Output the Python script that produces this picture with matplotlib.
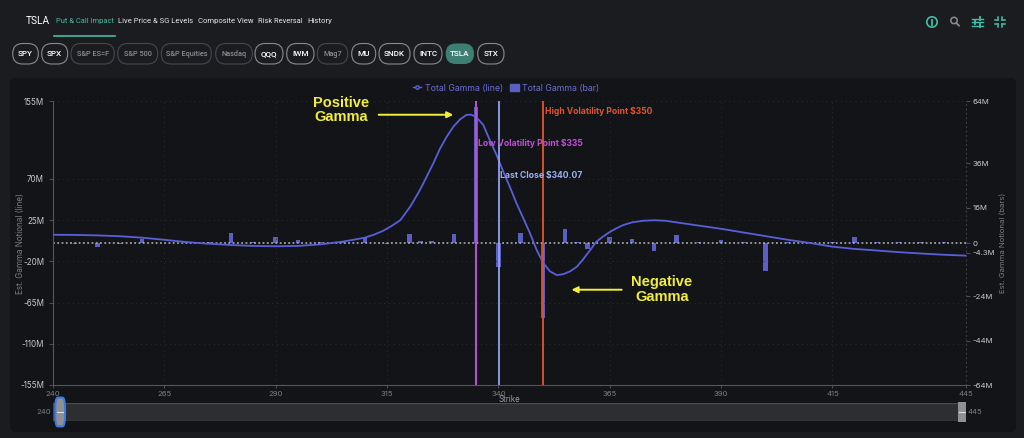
import matplotlib

matplotlib.use("Agg")
import matplotlib.pyplot as plt
from matplotlib.lines import Line2D
from matplotlib.patches import Circle, FancyBboxPatch, Rectangle

# ---------------------------------------------------------------------------
# data
# ---------------------------------------------------------------------------
line_strikes = [240, 245, 250, 255, 260, 265, 270, 275, 280, 285, 290, 295,
                300, 305, 308, 310, 312, 314, 316, 318, 320.2, 322.4, 323.9,
                325.4, 326.9, 328.4, 329.9, 331.4, 332.9, 334.0, 335.1, 336.6,
                338.1, 339.6, 341.1, 342.6, 344.1, 345.6, 347.1, 348.6, 350.1,
                351.6, 353.1, 354.6, 356.1, 357.6, 359, 360.5, 362, 363.5, 365,
                366.5, 368, 370, 372.5, 375, 377.5, 380, 385, 390, 395, 400,
                405, 410, 415, 420, 425, 430, 435, 440, 445]
line_gamma_m = [9.0, 8.8, 8.3, 7.4, 5.8, 3.5, 1.0, -0.8, -2.2, -3.2, -3.6, -3.2,
                -1.5, 1.5, 4.0, 5.8, 9.0, 13.0, 18.5, 25.0, 39.6, 57.9, 72.4,
                87.0, 103.0, 116.0, 127.0, 135.0, 140.0, 140.0, 137.0, 129.0,
                112.0, 96.0, 78.0, 61.0, 43.0, 27.0, 10.6, -7.6, -22.0,
                -31.0, -35.0, -34.0, -31.0, -26.0, -18.0, -8.5, 1.4, 7.0, 12.0,
                16.0, 19.5, 22.5, 24.3, 24.8, 24.3, 22.5, 19.0, 15.5, 11.5, 7.5,
                3.5, 0.0, -4.0, -6.5, -8.2, -10.0, -11.5, -12.8, -13.8]

bar_strikes = [245, 250, 255, 260, 265, 270, 275, 280, 285, 290, 295, 300, 305,
               310, 315, 320, 322.5, 325, 330, 335, 340, 345, 350, 355, 357.5,
               360, 365, 370, 375, 380, 385, 390, 395, 400, 405, 410, 415, 420,
               425, 430, 435, 440]
bar_gamma_m = [-0.3, -2.0, -0.3, 2.0, 0.2, 0.3, 0.3, 4.3, 0.3, 2.7, 1.4, 0.3, 0.3,
               2.8, -0.3, 4.0, 0.8, 1.0, 4.0, 61.5, -10.7, 4.6, -34.0, 6.3, 0.3,
               -2.8, 2.7, 1.9, -3.6, 3.6, 0.3, 1.3, 0.3, -12.6, 0.3, 0.6, 0.3, 2.7,
               0.5, 0.3, 0.3, 0.3]

left_ticks = [-155, -110, -65, -20, 25, 70, 155]
right_ticks = [-64, -44, -24, -4.3, 0, 16, 36, 64]
x_ticks = [240, 265, 290, 315, 340, 365, 390, 415, 445]

low_vol, last_close, high_vol = 335, 340.07, 350

tabs = ["Put & Call Impact", "Live Price & SG Levels", "Composite View",
        "Risk Reversal", "History"]
pills = ["SPY", "SPX", "S&P ES=F", "S&P 500", "S&P Equities", "Nasdaq", "QQQ",
         "IWM", "Mag7", "MU", "SNDK", "INTC", "TSLA", "STX"]
dim_pills = {"S&P ES=F", "S&P 500", "S&P Equities", "Nasdaq", "Mag7"}

# ---------------------------------------------------------------------------
# styling
# ---------------------------------------------------------------------------
W, H = 1024, 438
BG = "#1b1c20"
PANEL = "#131418"
TEAL = "#40bfa6"
LINE_C = "#5a5fd8"
BAR_C = "#5b5fc4"
GRID_C = "#2c2e34"
TICK_C = "#c9c9cc"
plt.rcParams["font.family"] = ["Inter", "DejaVu Sans"]


def fx(x):
    return x / W


def fy(y):
    return 1 - y / H


fig = plt.figure(figsize=(W / 100, H / 100), dpi=100, facecolor=BG)
renderer = fig.canvas.get_renderer()


def fit_text(t, width_px):
    # shrink a text so that it spans the width seen in the reference
    w = t.get_window_extent(renderer).width
    t.set_fontsize(t.get_fontsize() * width_px / w)
    return t


# overlay in pixel coordinates for the page chrome
ui = fig.add_axes([0, 0, 1, 1], zorder=0)
ui.set_xlim(0, W)
ui.set_ylim(H, 0)
ui.axis("off")
ui.add_patch(FancyBboxPatch((10, 78), 1006, 354, boxstyle="round,pad=0,rounding_size=6",
                            facecolor=PANEL, edgecolor="none"))

fit_text(ui.text(26, 21, "TSLA", color="white", fontsize=9, va="center",
                 family="Roboto"), 24)
tab_x = [(56, 58), (118, 75), (198, 56), (258, 45), (307, 25)]
for i, (label, (x, w)) in enumerate(zip(tabs, tab_x)):
    fit_text(ui.text(x, 21, label, color=TEAL if i == 0 else "#e6e6e6", fontsize=7,
                     va="center", family="Roboto"), w)
ui.plot([54, 115], [36, 36], color=TEAL, lw=1.2)

pill_edges = [(12.7, 38.3), (41.7, 67.7), (71, 114.3), (117.7, 157.7), (161.3, 211.3),
              (215.7, 252.3), (255, 283), (286.7, 314), (317.3, 347.7), (351.7, 375.7),
              (379, 410), (414, 442), (445.7, 474), (477.7, 504)]
for label, (x0, x1) in zip(pills, pill_edges):
    active = label == "TSLA"
    dim = label in dim_pills
    ui.add_patch(FancyBboxPatch((x0, 43.5), x1 - x0, 20.5,
                                boxstyle="round,pad=0,rounding_size=10",
                                facecolor="#3d7f73" if active else "none",
                                edgecolor="none" if active else ("#46484e" if dim else "#8a8b90"),
                                lw=0.8))
    ui.text((x0 + x1) / 2, 54, label, ha="center", va="center",
            fontsize=5.3 if dim else 5.9, fontweight="medium",
            color="#8a8b90" if dim else "white", family="Roboto")

# top-right icons
ui.add_patch(Circle((932, 22), 5.2, facecolor="none", edgecolor=TEAL, lw=1.2))
ui.plot([932, 932], [19.5, 24.5], color=TEAL, lw=1.3)
ui.add_patch(Circle((954, 20.5), 3.2, facecolor="none", edgecolor="#8a8b90", lw=1.1))
ui.plot([956.3, 959], [23, 25.7], color="#8a8b90", lw=1.3)
for yy, kx in [(18.5, 980), (22, 975), (25.5, 980)]:
    ui.plot([972, 983], [yy, yy], color=TEAL, lw=1.0)
    ui.plot([kx, kx], [yy - 1.6, yy + 1.6], color=TEAL, lw=1.3)
for sx, sy in [(-1, -1), (1, -1), (-1, 1), (1, 1)]:
    cx, cy = 1000 + sx * 2.2, 22 + sy * 2.2
    ui.plot([cx, cx + sx * 3], [cy, cy], color=TEAL, lw=1.1)
    ui.plot([cx, cx], [cy, cy + sy * 3], color=TEAL, lw=1.1)

# ---------------------------------------------------------------------------
# chart
# ---------------------------------------------------------------------------
ax_left, ax_right, ax_top, ax_bot = 53, 966, 101, 385
rect = [fx(ax_left), fy(ax_bot), fx(ax_right) - fx(ax_left), fy(ax_top) - fy(ax_bot)]
ax2 = fig.add_axes(rect, zorder=1)
ax = ax2.twinx()
ax.set_zorder(2)
ax.yaxis.tick_left()
ax.yaxis.set_label_position("left")
ax2.yaxis.tick_right()
ax2.yaxis.set_label_position("right")
ax.patch.set_visible(False)
ax2.set_facecolor(PANEL)

ax2.bar(bar_strikes, bar_gamma_m, width=1.0, color=BAR_C, zorder=3)
ax.plot(line_strikes, line_gamma_m, color=LINE_C, lw=1.3, zorder=4,
        solid_joinstyle="round")

ax.set_xlim(240, 445)
ax.set_ylim(-155, 155)
ax2.set_ylim(-64, 64)

ax.set_yticks(left_ticks)
ax.set_yticklabels([f"{v:g}M" for v in left_ticks])
ax2.set_yticks(right_ticks)
ax2.set_yticklabels(["0" if v == 0 else f"{v:g}M" for v in right_ticks])
ax2.set_xticks(x_ticks)
ax2.set_xticklabels([str(v) for v in x_ticks])

for a in (ax, ax2):
    a.tick_params(colors="#5a5b60", labelcolor=TICK_C, labelsize=5.8, length=3, width=0.6)
    for s in a.spines.values():
        s.set_visible(False)
ax2.tick_params(axis="y", labelsize=5.6, pad=2)
ax2.tick_params(axis="x", labelcolor="#7d7e83", labelsize=5.5, length=2, pad=2)
ax2.spines["bottom"].set_visible(True)
ax2.spines["bottom"].set_color("#55565b")
ax.spines["left"].set_visible(True)
ax.spines["left"].set_color("#55565b")
ax2.spines["right"].set_visible(True)
ax2.spines["right"].set_color("#3a3b40")
ax2.spines["right"].set_linestyle((0, (1, 3)))

for v in left_ticks:
    ax.axhline(v, color=GRID_C, lw=0.7, ls=(0, (1, 4)), zorder=1)
for v in x_ticks[1:-1]:
    ax.axvline(v, color=GRID_C, lw=0.7, ls=(0, (1, 4)), zorder=1)
ax.axhline(0, color="#b8b9bd", lw=1.1, ls=(0, (1.2, 1.6)), zorder=2)

ax.set_ylabel("Est. Gamma Notional (line)", color="#7d7e83", fontsize=5.8)
ax.yaxis.set_label_coords((25 - ax_left) / (ax_right - ax_left), 0.5)
ax2.set_ylabel("Est. Gamma Notional (bars)", color="#7d7e83", fontsize=5.6)
ax2.yaxis.set_label_coords((1000 - ax_left) / (ax_right - ax_left), 0.5)
ax2.set_xlabel("Strike", color="#9a9ba0", fontsize=5.8, labelpad=-1)

# reference verticals with labels
ax.axvline(low_vol, color="#b452cc", lw=1.5, zorder=5)
ax.axvline(last_close, color="#8ea3f0", lw=1.3, zorder=5)
ax.axvline(high_vol, color="#d9512c", lw=1.4, zorder=5)
ax.text(high_vol + 0.4, 144, f"High Volatility Point ${high_vol}", color="#e0552e",
        fontsize=6.2, fontweight="bold", va="center", zorder=6)
ax.text(low_vol + 0.4, 109, f"Low Volatility Point ${low_vol}", color="#c04fd6",
        fontsize=6.2, fontweight="bold", va="center", zorder=6)
ax.text(last_close + 0.3, 74, f"Last Close ${last_close}", color="#9db0f2",
        fontsize=6.2, fontweight="bold", va="center", zorder=6)

# call-outs
YEL = "#f2ee3a"
ax.text(304.6, 145, "Positive\nGamma", color=YEL, fontsize=10.5, fontweight="bold",
        ha="center", va="center", linespacing=1.05, family="Liberation Sans", zorder=6)
ax.annotate("", xy=(330.5, 140), xytext=(312.5, 140),
            arrowprops=dict(arrowstyle="-|>", color=YEL, lw=1.4, mutation_scale=9), zorder=6)
ax.text(376.7, -51, "Negative\nGamma", color=YEL, fontsize=10.5, fontweight="bold",
        ha="center", va="center", linespacing=1.05, family="Liberation Sans", zorder=6)
ax.annotate("", xy=(355.8, -51), xytext=(368.3, -51),
            arrowprops=dict(arrowstyle="-|>", color=YEL, lw=1.4, mutation_scale=9), zorder=6)

# legend
handles = [Line2D([], [], color=LINE_C, lw=1, marker="o", ms=2.5, mfc=PANEL),
           Rectangle((0, 0), 1, 1, color=BAR_C)]
ax.legend(handles, ["Total Gamma (line)", "Total Gamma (bar)"], loc="center",
          bbox_to_anchor=(fx(506), fy(88)), bbox_transform=fig.transFigure, ncol=2,
          frameon=False, fontsize=6.3, labelcolor="#6a6fd2", handlelength=1.0,
          handleheight=0.7, handletextpad=0.4, columnspacing=0.8)

# range slider
sl = fig.add_axes([fx(ax_left), fy(421), fx(ax_right) - fx(ax_left), fy(403) - fy(421)],
                  zorder=1)
sl.set_xlim(240, 445)
sl.set_ylim(0, 1)
sl.axis("off")
sl.add_patch(Rectangle((240, 0), 205, 1, facecolor="#2d2e32", edgecolor="#4a4b50", lw=1))
sl.add_patch(FancyBboxPatch((240.5, -0.3), 2.2, 1.6, boxstyle="round,pad=0,rounding_size=0.6",
                            facecolor="#8f9094", edgecolor="#3d7be0", lw=1.5,
                            mutation_aspect=1, clip_on=False))
sl.add_patch(Rectangle((443.2, -0.05), 1.8, 1.1, facecolor="#8f9094", edgecolor="none",
                       clip_on=False))
sl.plot([241, 242.2], [0.5, 0.5], color="#dddddd", lw=0.8, clip_on=False)
sl.plot([443.5, 444.7], [0.5, 0.5], color="#dddddd", lw=0.8, clip_on=False)
ui.text(44, 412, "240", color="#7d7e83", fontsize=5.5, ha="center", va="center")
ui.text(975, 412, "445", color="#7d7e83", fontsize=5.5, ha="center", va="center")

fig.savefig("out.png", dpi=100, facecolor=BG)
